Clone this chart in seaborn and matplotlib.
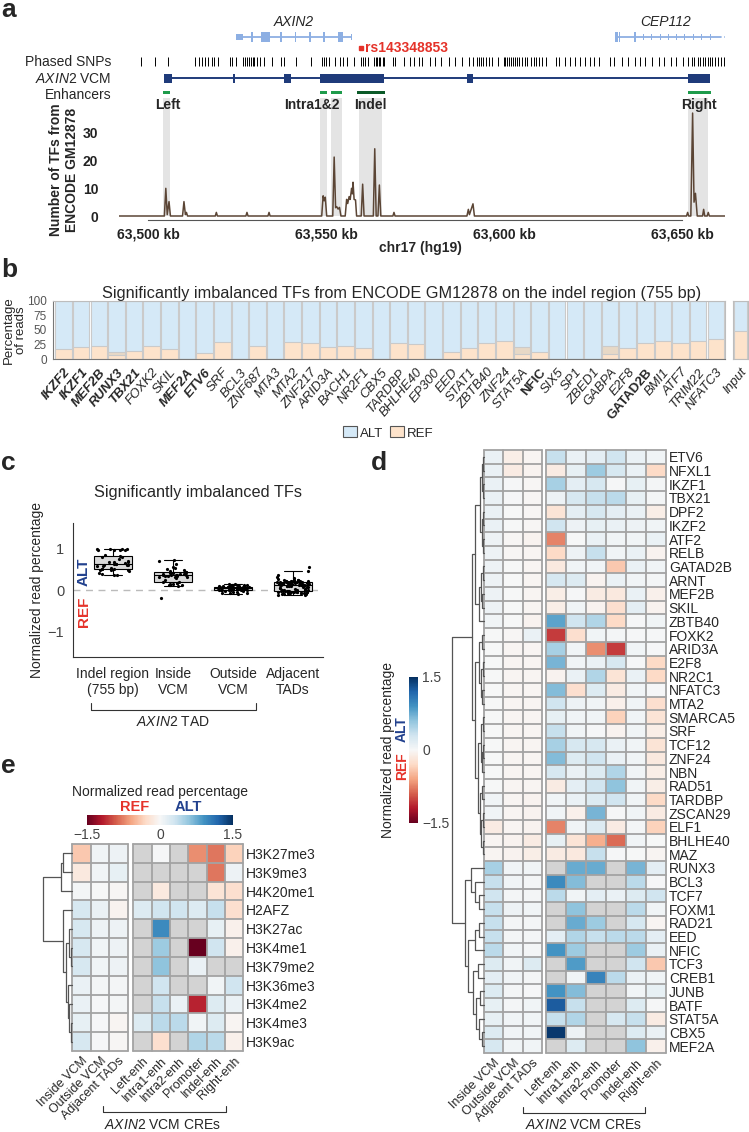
import numpy as np
import pandas as pd
import matplotlib
matplotlib.use("Agg")
import matplotlib.pyplot as plt
import seaborn as sns
from matplotlib.patches import Rectangle, Patch
from matplotlib.lines import Line2D
from matplotlib.colors import Normalize
from matplotlib.cm import ScalarMappable

sns.set_style("white")
plt.rcParams["font.family"] = ["Liberation Sans", "DejaVu Sans"]
plt.rcParams["mathtext.fontset"] = "custom"
plt.rcParams["mathtext.rm"] = "Liberation Sans"
plt.rcParams["mathtext.it"] = "Liberation Sans:italic"
plt.rcParams["mathtext.bf"] = "Liberation Sans:bold"

NA = np.nan

# ---------------- panel a data (kb, chr17 hg19) ----------------
axin2_ex_start = [63524.6, 63528.9, 63531.7, 63537.2, 63541.2, 63545.3, 63549.3, 63553.4, 63557.0]
axin2_ex_end = [63526.6, 63529.6, 63534.4, 63537.7, 63541.7, 63545.8, 63549.8, 63554.8, 63557.3]
axin2_ex_kind = ["utr", "cds", "cds", "cds", "cds", "cds", "cds", "cds", "utr"]
axin2_span = [63524.6, 63557.3]
cep112_ex_start = [63631.2, 63632.3, 63636.6, 63639.0, 63641.4, 63643.7, 63646.0, 63648.4, 63650.7, 63653.1, 63655.4, 63657.8]
cep112_ex_end = [63631.9, 63632.6, 63637.1, 63639.3, 63641.7, 63644.0, 63646.3, 63648.7, 63651.0, 63653.4, 63655.7, 63658.1]
cep112_ex_kind = ["cds", "cds", "cds", "utr", "utr", "utr", "utr", "utr", "utr", "utr", "utr", "utr"]
cep112_span = [63631.2, 63660.1, 63662.1]  # solid end, dashed end

snp_kb = [63498.0, 63502.0, 63505.7, 63513.1, 63514.2, 63515.2, 63516.1, 63516.9, 63517.9, 63518.6,
          63519.6, 63522.9, 63523.7, 63524.7, 63526.7, 63527.2, 63527.8, 63528.3, 63528.9, 63529.4,
          63529.8, 63530.6, 63531.4, 63532.7, 63534.8, 63537.3, 63538.2, 63541.6, 63545.7, 63548.9,
          63549.5, 63550.1, 63550.8, 63552.4, 63553.8, 63554.9, 63556.0, 63557.9, 63559.8, 63560.3,
          63561.0, 63561.7, 63563.4, 63564.0, 63564.4, 63564.9, 63565.3, 63565.9, 63566.4, 63568.7,
          63569.5, 63571.8, 63573.6, 63574.7, 63576.0, 63577.0, 63579.3, 63580.6, 63582.2, 63584.7,
          63586.3, 63588.1, 63590.1, 63591.2, 63592.5, 63593.1, 63593.6, 63594.2, 63595.0, 63595.8,
          63596.6, 63598.2, 63599.9, 63600.4, 63600.9, 63601.5, 63602.0, 63602.6, 63603.1, 63603.7,
          63604.2, 63605.0, 63605.8, 63606.6, 63607.5, 63608.3, 63609.1, 63609.9, 63610.7, 63611.8,
          63614.5, 63615.4, 63617.2, 63618.6, 63619.9, 63621.3, 63622.9, 63624.3, 63625.3, 63626.7,
          63629.7, 63631.0, 63633.1, 63634.8, 63636.9, 63638.2, 63639.6, 63641.6, 63643.6, 63645.0,
          63647.0, 63648.4, 63650.4, 63651.8, 63652.7, 63653.5, 63654.5, 63655.1, 63655.8, 63656.5,
          63657.2, 63657.9, 63658.5, 63659.2, 63660.2, 63661.0, 63661.9]
rs_kb = 63559.9

vcm_start = [63504.5, 63523.9, 63538.3, 63548.2, 63589.7, 63651.6]
vcm_end = [63506.8, 63524.3, 63540.1, 63566.4, 63591.3, 63658.0]
vcm_span = [63504.5, 63658.0]

enh_names = ["Left", "Intra1", "Intra2", "Indel", "Right"]
enh_start = [63504.3, 63548.2, 63551.4, 63558.7, 63651.6]
enh_end = [63506.3, 63550.3, 63554.6, 63566.5, 63658.1]
enh_label = ["Left", "Intra1&2", "Indel", "Right"]
enh_label_kb = [63505.7, 63546.1, 63562.6, 63654.7]
band_start = [63504.3, 63548.2, 63551.4, 63559.2, 63651.7]
band_end = [63506.3, 63550.3, 63554.6, 63565.7, 63657.3]

sig_kb = [63491.9, 63504.6, 63505.0, 63505.4, 63505.9, 63506.3, 63509.7, 63510.1, 63510.5, 63510.8,
          63511.1, 63518.9, 63519.2, 63519.5, 63527.5, 63527.8, 63528.1, 63533.7, 63534.0, 63534.3,
          63548.8, 63549.2, 63549.5, 63549.8, 63550.2, 63551.9, 63552.3, 63552.7, 63553.0, 63553.4,
          63553.8, 63554.2, 63555.4, 63555.8, 63556.1, 63556.5, 63556.8, 63557.2, 63557.4, 63557.6,
          63557.9, 63558.3, 63558.6, 63559.9, 63560.3, 63560.7, 63563.3, 63563.7, 63564.1, 63564.6,
          63565.0, 63565.4, 63568.8, 63569.1, 63569.4, 63589.6, 63590.0, 63590.3, 63591.3, 63591.7,
          63651.3, 63651.6, 63651.9, 63652.5, 63653.0, 63653.4, 63653.8, 63654.3, 63655.8, 63656.1,
          63656.4, 63657.1, 63657.4, 63657.7, 63662.1]
sig_val = [0, 0, 10.0, 0.5, 5.2, 0, 0, 5.2, 0.5, 1.3,
           0, 0, 1.3, 0, 0, 1.3, 0, 0, 1.3, 0,
           0, 7.3, 5.5, 6.8, 0, 0, 21.3, 3.0, 3.4, 2.5,
           3.1, 0, 0, 6.0, 4.5, 7.0, 6.0, 10.0, 8.0, 12.2,
           6.0, 5.8, 0, 0, 11.5, 0, 0, 24.3, 0, 0,
           11.2, 0, 0, 1.3, 0, 0, 2.4, 0.5, 4.4, 0,
           0, 1.3, 0, 0, 37.2, 5.0, 8.2, 0, 0, 2.4,
           0, 0, 1.3, 0, 0]

# ---------------- panel b data ----------------
b_tfs = ["IKZF2", "IKZF1", "MEF2B", "RUNX3", "TBX21", "FOXK2", "SKIL", "MEF2A", "ETV6", "SRF",
         "BCL3", "ZNF687", "MTA3", "MTA2", "ZNF217", "ARID3A", "BACH1", "NR2F1", "CBX5", "TARDBP",
         "BHLHE40", "EP300", "EED", "STAT1", "ZBTB40", "ZNF24", "STAT5A", "NFIC", "SIX5", "SP1",
         "ZBED1", "GABPA", "E2F8", "GATAD2B", "BMI1", "ATF7", "TRIM22", "NFATC3"]
b_ref = [17, 20.5, 22.7, 8, 14.8, 22.7, 18.2, 0, 10.2, 29,
         0, 22.7, 0, 29, 27.3, 20.5, 23.3, 18.8, 0, 28.4,
         25.6, 0, 12, 20, 27.3, 31.8, 9, 13, 0, 0,
         0, 8.5, 18.8, 28.4, 31.8, 27.3, 31.8, 34]
b_mixed = [0, 0, 0, 12, 0, 0, 0, 0, 0, 0,
           0, 0, 0, 0, 0, 0, 0, 0, 0, 0,
           0, 0, 0, 0, 0, 0, 20.5, 0, 0, 0,
           0, 22.7, 0, 0, 0, 0, 0, 0]
b_bold = ["IKZF2", "IKZF1", "MEF2B", "RUNX3", "TBX21", "MEF2A", "ETV6", "NFIC", "GATAD2B"]
b_upright = ["NFIC", "GATAD2B"]
input_ref = 48.3

# ---------------- panel c data ----------------
c_groups = ["Indel region\n(755 bp)", "Inside\nVCM", "Outside\nVCM", "Adjacent\nTADs"]
c_indel = [0.70, 0.63, 0.59, 0.81, 0.74, 0.60, 0.68, 0.97, 0.84, 0.47, 0.97, 0.58, 0.96, 0.46,
           0.50, 0.62, 0.57, 0.66, 0.96, 0.48, 0.53, 0.97, 0.80, 0.64, 0.49, 0.40, 0.63, 0.78,
           0.95, 0.97, 0.96, 0.59, 0.66, 0.47, 0.39, 0.50, 0.36, 0.35]
c_inside = [0.12, 0.10, 0.14, 0.16, 0.13, 0.18, 0.11, 0.15, 0.20, 0.25, 0.30, 0.33, 0.35, 0.34,
            0.36, 0.38, 0.40, 0.37, 0.32, 0.35, 0.39, 0.41, 0.44, 0.46, 0.50, 0.52, 0.48, 0.43,
            0.36, 0.31, 0.28, 0.34, 0.38, 0.42, 0.55, 0.62, 0.70, 0.72, -0.20, 0.17]
c_outside = [0.00, 0.02, 0.05, 0.08, 0.10, 0.12, 0.15, 0.13, 0.03, -0.02, -0.05, -0.08, -0.10,
             0.01, 0.04, 0.06, 0.07, 0.09, 0.11, 0.14, 0.02, 0.00, -0.03, -0.06, 0.03, 0.05,
             0.08, 0.12, 0.01, -0.01, 0.04, 0.02, 0.06, 0.10, -0.04, 0.00, 0.03, 0.07, 0.09,
             0.13, -0.07, 0.01, 0.05, 0.02, 0.04]
c_adjacent = [0.55, 0.45, 0.35, 0.30, 0.28, 0.26, 0.25, 0.24, 0.23, 0.22, 0.22, 0.21, 0.21, 0.20,
              0.20, 0.19, 0.19, 0.18, 0.18, 0.17, 0.17, 0.16, 0.16, 0.15, 0.15, 0.15, 0.14, 0.14,
              0.13, 0.13, 0.13, 0.12, 0.12, 0.12, 0.11, 0.11, 0.10, 0.10, 0.10, 0.09, 0.09, 0.08,
              0.08, 0.07, 0.06, 0.05, 0.04, 0.03, 0.02, 0.01, 0.00, 0.00, -0.01, -0.01, -0.02,
              -0.02, -0.03, -0.03, -0.03, -0.04, -0.04, -0.04, -0.05, -0.05, -0.05, -0.05, -0.06,
              -0.06, -0.06, -0.07, -0.07, -0.07, -0.08, -0.08, -0.09, -0.09, -0.10, -0.10, -0.11,
              -0.12, 0.18, 0.20, 0.22, 0.16, 0.14, 0.24, 0.19, 0.17, 0.21, 0.15]

# ---------------- heatmap data ----------------
region_cols = ["Inside VCM", "Outside VCM", "Adjacent TADs"]
cre_cols = ["Left-enh", "Intra1-enh", "Intra2-enh", "Promoter", "Indel-enh", "Right-enh"]

d_rows = ["ETV6", "NFXL1", "IKZF1", "TBX21", "DPF2", "IKZF2", "ATF2", "RELB", "GATAD2B", "ARNT",
          "MEF2B", "SKIL", "ZBTB40", "FOXK2", "ARID3A", "E2F8", "NR2C1", "NFATC3", "MTA2", "SMARCA5",
          "SRF", "TCF12", "ZNF24", "NBN", "RAD51", "TARDBP", "ZSCAN29", "ELF1", "BHLHE40", "MAZ",
          "RUNX3", "BCL3", "TCF7", "FOXM1", "RAD21", "EED", "NFIC", "TCF3", "CREB1", "JUNB",
          "BATF", "STAT5A", "CBX5", "MEF2A"]
d_region = [[0.10, -0.10, -0.03], [0.10, -0.12, -0.05], [0.10, 0.02, -0.02], [0.10, 0.02, -0.02],
            [0.10, 0.00, -0.02], [0.10, 0.00, -0.02], [0.08, -0.02, -0.05], [0.08, -0.02, -0.03],
            [0.08, 0.00, -0.03], [0.08, 0.00, -0.03], [0.08, 0.00, -0.03], [0.08, 0.00, -0.03],
            [0.05, 0.00, -0.05], [0.00, -0.02, 0.10], [0.00, -0.03, -0.03], [0.00, -0.03, -0.03],
            [0.00, -0.03, -0.03], [0.00, -0.03, -0.03], [0.00, -0.03, -0.03], [0.00, -0.03, -0.03],
            [0.00, -0.03, -0.03], [0.00, -0.03, -0.03], [0.00, -0.03, -0.03], [0.00, -0.03, -0.03],
            [0.00, -0.03, -0.03], [0.05, -0.03, -0.05], [0.05, -0.03, -0.05], [-0.12, -0.03, -0.05],
            [-0.03, -0.05, -0.12], [-0.03, -0.05, -0.10], [0.50, 0.05, 0.05], [0.35, 0.05, 0.03],
            [0.30, 0.03, 0.03], [0.35, 0.08, 0.05], [0.35, 0.03, 0.03], [0.35, 0.03, 0.03],
            [0.40, 0.05, 0.03], [0.20, 0.05, 0.20], [0.15, 0.05, 0.03], [0.20, 0.03, 0.02],
            [0.12, 0.03, 0.05], [0.12, 0.05, 0.05], [0.20, 0.05, 0.05], [0.25, 0.05, 0.05]]
d_cre = [[0.35, 0.10, 0.15, 0.30, 0.10, 0.05], [-0.12, 0.12, 0.55, 0.25, 0.10, -0.30],
         [0.50, 0.15, 0.25, 0.02, 0.12, 0.03], [0.08, 0.25, 0.35, 0.40, 0.12, 0.03],
         [-0.20, 0.15, 0.25, 0.15, 0.10, -0.10], [0.30, 0.08, 0.12, 0.10, 0.08, 0.05],
         [-0.75, 0.00, 0.10, 0.05, 0.05, 0.10], [-0.30, 0.08, 0.35, 0.05, 0.10, -0.05],
         [-0.15, 0.05, 0.05, -0.40, 0.10, 0.05], [0.25, 0.20, -0.05, 0.10, 0.05, 0.03],
         [-0.10, 0.02, -0.12, -0.15, 0.10, -0.08], [-0.10, 0.05, -0.05, -0.25, 0.15, -0.05],
         [0.80, 0.30, 0.45, -0.30, 0.02, 0.05], [-1.05, -0.25, 0.05, 0.03, 0.02, 0.02],
         [0.50, 0.05, -0.70, -1.05, 0.05, 0.02], [0.70, 0.05, 0.10, 0.25, 0.02, -0.30],
         [-0.05, 0.10, 0.45, -0.20, 0.10, -0.30], [0.65, -0.25, 0.20, -0.12, 0.05, 0.02],
         [0.30, 0.08, 0.05, -0.08, 0.05, -0.25], [0.12, 0.05, 0.05, -0.35, 0.05, -0.20],
         [0.35, 0.05, 0.02, -0.05, 0.05, -0.10], [0.50, 0.25, 0.25, 0.10, 0.05, -0.20],
         [0.65, 0.20, 0.30, 0.10, 0.05, -0.15], [0.25, 0.10, 0.20, 0.45, 0.05, -0.10],
         [-0.12, 0.15, 0.30, 0.60, 0.05, -0.10], [0.05, 0.10, 0.20, 0.30, 0.05, -0.30],
         [0.05, -0.08, 0.70, 0.02, 0.05, -0.12], [-0.75, 0.05, 0.20, -0.12, 0.03, -0.35],
         [0.12, -0.20, -0.55, -0.85, 0.05, 0.00], [-0.12, -0.15, 0.35, 0.02, 0.00, -0.03],
         [NA, 0.75, 0.75, NA, 0.70, 0.15], [0.95, 0.65, NA, NA, 0.40, 0.02],
         [0.40, 0.05, 0.15, 0.10, 0.20, 0.30], [NA, 0.60, NA, NA, 0.40, 0.05],
         [NA, 0.75, 0.55, NA, 0.25, -0.03], [0.15, 0.45, 0.35, 0.40, 0.40, 0.15],
         [0.90, 0.55, NA, NA, 0.55, 0.10], [NA, 0.85, NA, NA, 0.30, -0.40],
         [NA, 0.05, 1.00, 0.40, 0.10, 0.05], [0.90, 0.65, NA, NA, 0.05, 0.12],
         [1.25, 0.35, NA, NA, 0.20, 0.02], [0.35, 0.45, NA, 0.25, 0.35, -0.12],
         [1.45, 0.08, NA, NA, 0.20, 0.10], [NA, 0.20, NA, NA, 0.60, -0.08]]
d_tree = [1.0,
          [0.38,
           [0.30, [0.12, [0.08, [0.05, 0, 1], [0.04, 2, 3]], [0.07, [0.04, 4, 5], [0.05, 6, 7]]],
            [0.15, [0.10, [0.05, 8, 9], [0.06, 10, 11]], 12]],
           [0.28, [0.15, [0.08, 13, 14], [0.10, [0.05, 15, 16], [0.06, 17, 18]]],
            [0.20, [0.10, [0.05, 19, 20], [0.06, [0.03, 21, 22], 23]],
             [0.12, [0.07, 24, 25], [0.09, [0.05, 26, 27], [0.04, 28, 29]]]]]],
          [0.60, [0.42, 30, [0.30, 31, [0.15, 32, 33]]],
           [0.50, [0.30, [0.15, 34, 35], 36],
            [0.35, [0.20, 37, 38], [0.25, [0.12, 39, 40], [0.15, 41, [0.08, 42, 43]]]]]]]

e_rows = ["H3K27me3", "H3K9me3", "H4K20me1", "H2AFZ", "H3K27ac", "H3K4me1", "H3K79me2",
          "H3K36me3", "H3K4me2", "H3K4me3", "H3K9ac"]
e_region = [[-0.40, 0.05, 0.08], [-0.15, 0.05, 0.12], [0.03, 0.00, -0.02], [0.25, 0.10, -0.05],
            [0.25, 0.08, 0.08], [0.25, 0.05, 0.08], [0.25, 0.05, 0.08], [0.10, 0.03, 0.03],
            [0.10, 0.02, 0.03], [0.12, 0.02, -0.03], [0.25, 0.02, -0.02]]
e_cre = [[NA, 0.02, NA, -0.70, -0.80, -0.35], [NA, NA, NA, NA, -0.80, 0.08],
         [NA, -0.15, NA, NA, -0.20, -0.25], [0.20, 0.30, 0.30, 0.20, 0.35, -0.25],
         [NA, 0.95, NA, NA, 0.12, -0.08], [NA, 0.55, NA, -1.50, 0.30, -0.08],
         [NA, 0.60, NA, 0.10, NA, NA], [NA, 0.30, NA, NA, 0.05, 0.30],
         [NA, 0.35, 0.10, -1.15, 0.20, 0.10], [0.20, 0.40, 0.40, 0.05, 0.20, -0.03],
         [NA, -0.25, NA, 0.45, 0.40, -0.08]]
e_tree = [1.0, [0.38, [0.30, 0, 1], 2],
          [0.30, 3, [0.20, [0.12, 4, [0.06, 5, 6]], [0.15, 7, [0.10, 8, [0.05, 9, 10]]]]]]

# ---------------- layout helpers (pixel coords) ----------------
W, H = 749, 1132
fig = plt.figure(figsize=(W / 100, H / 100), dpi=100)

RED = "#E5332A"
BLUE = "#22418E"
NAVY = "#1F3B7A"
GENE = "#8DAFE3"


def box(x0, y0, x1, y1):
    return fig.add_axes([x0 / W, 1 - y1 / H, (x1 - x0) / W, (y1 - y0) / H])


def ftext(x, y, s, **kw):
    kw.setdefault("ha", "center")
    kw.setdefault("va", "center")
    return fig.text(x / W, 1 - y / H, s, **kw)


def fline(xs, ys, **kw):
    fig.add_artist(Line2D([x / W for x in xs], [1 - y / H for y in ys], **kw))


for lab, x, y in [("a", 1, 10), ("b", 1, 270), ("c", 1, 463), ("d", 371, 463), ("e", 1, 766)]:
    ftext(x, y, lab, ha="left", fontsize=19, fontweight="bold")

# ---------------- panel a ----------------
XMIN, XMAX = 63491.85, 63662.1
ta = box(119, 0, 725, 98)
ta.set_xlim(XMIN, XMAX)
ta.set_ylim(98, 0)
ta.axis("off")


def draw_gene(ax, span, starts, ends, kinds, y):
    ax.plot(span[:2], [y, y], color=GENE, lw=1.3, solid_capstyle="butt")
    for s, e, k in zip(starts, ends, kinds):
        hh = 5 if k == "cds" else 3
        ax.add_patch(Rectangle((s, y - hh), e - s, 2 * hh, color=GENE, lw=0))


draw_gene(ta, axin2_span, axin2_ex_start, axin2_ex_end, axin2_ex_kind, 37)
draw_gene(ta, cep112_span, cep112_ex_start, cep112_ex_end, cep112_ex_kind, 37)
ta.plot(cep112_span[1:], [37, 37], color=GENE, lw=1.3, ls=(0, (2, 1.5)))
ta.text(np.mean(axin2_span), 22, "AXIN2", style="italic", fontsize=10, ha="center", va="center")
ta.text(63645.5, 22, "CEP112", style="italic", fontsize=10, ha="center", va="center")

ta.plot(rs_kb, 48, marker="s", ms=3.2, color=RED)
ta.text(rs_kb + 1.2, 48, "rs143348853", color=RED, fontweight="bold", fontsize=10, va="center")

ta.vlines(snp_kb, 57.5, 66.5, color="black", lw=0.7)

ta.plot(vcm_span, [78, 78], color=NAVY, lw=1.4, solid_capstyle="butt")
for s, e in zip(vcm_start, vcm_end):
    ta.add_patch(Rectangle((s, 73.5), e - s, 9, color=NAVY, lw=0))

for n, s, e in zip(enh_names, enh_start, enh_end):
    ta.add_patch(Rectangle((s, 91), e - s, 3, color="#0B5A28" if n == "Indel" else "#1E9B4B", lw=0))

ftext(111, 62, "Phased SNPs", ha="right", fontsize=10)
ftext(111, 79, r"$\it{AXIN2}$ VCM", ha="right", fontsize=10)
ftext(111, 95, "Enhancers", ha="right", fontsize=10)

sa = box(119, 98, 725, 220)
sa.set_xlim(XMIN, XMAX)
ylo, yhi = -4 / 2.767, 118 / 2.767
sa.set_ylim(ylo, yhi)
for s, e in zip(band_start, band_end):
    sa.axvspan(s, e, ymin=(0 - ylo) / (yhi - ylo), color="#E4E4E4", lw=0, zorder=0)
sns.lineplot(x=sig_kb, y=sig_val, ax=sa, color="#5B4535", lw=1.1, zorder=3, sort=False)
for lab, k in zip(enh_label, enh_label_kb):
    sa.text(k, (216 - 105) / 2.767, lab, ha="center", va="center", fontsize=10,
            fontweight="bold", zorder=5)
for sp in ["top", "right", "left"]:
    sa.spines[sp].set_visible(False)
sa.spines["left"].set_position(("outward", 5))
sa.spines["bottom"].set_bounds(63500, 63650)
sa.spines["bottom"].set_color("#555")
sa.spines["bottom"].set_linewidth(0.8)
sa.set_yticks([0, 10, 20, 30])
sa.set_xticks([63500, 63550, 63600, 63650])
sa.set_xticklabels(["63,500 kb", "63,550 kb", "63,600 kb", "63,650 kb"])
sa.tick_params(axis="both", length=3, width=0.8, color="#555", labelsize=10, pad=2.5)
sa.tick_params(axis="y", pad=7)
for t in sa.get_xticklabels() + sa.get_yticklabels():
    t.set_fontweight("bold")
    t.set_color("#222")
ftext(64, 170, "Number of TFs from\nENCODE GM12878", rotation=90, fontsize=10,
      fontweight="bold", linespacing=1.15)
ftext(420, 248, "chr17 (hg19)", fontsize=10, fontweight="bold")

# ---------------- panel b ----------------
C_ALT, C_REF, C_MIX, C_EDGE = "#D5E9F7", "#FDE3CB", "#E7D8C6", "#CACACA"
ba = box(53, 300.7, 725, 359.3)
sns.barplot(x=b_tfs, y=[100] * len(b_tfs), color=C_ALT, saturation=1, width=0.94,
            edgecolor=C_EDGE, linewidth=0.8, errorbar=None, ax=ba)
sns.barplot(x=b_tfs, y=b_mixed, color=C_MIX, saturation=1, width=0.94,
            edgecolor=C_EDGE, linewidth=0.8, errorbar=None, ax=ba)
sns.barplot(x=b_tfs, y=b_ref, color=C_REF, saturation=1, width=0.94,
            edgecolor=C_EDGE, linewidth=0.8, errorbar=None, ax=ba)
ba.set_xlim(-0.6, len(b_tfs) - 0.48)
ba.set_ylim(0, 100)
ba.set_yticks([0, 25, 50, 75, 100])
ba.set_xticks(range(len(b_tfs)))
ba.set_xticklabels(b_tfs, rotation=50, ha="right", rotation_mode="anchor")
ba.tick_params(axis="y", length=3, width=0.8, color="#666", labelsize=8.5, labelcolor="#555", pad=1.5)
ba.tick_params(axis="x", length=3, width=0.8, color="#666", labelsize=9.5, pad=2)
for t, name in zip(ba.get_xticklabels(), b_tfs):
    if name in b_bold:
        t.set_fontweight("bold")
    if name not in b_upright:
        t.set_fontstyle("italic")
for sp in ["top", "right"]:
    ba.spines[sp].set_color("#BDBDBD")
for sp in ["left", "bottom"]:
    ba.spines[sp].set_color("#777")
    ba.spines[sp].set_linewidth(0.8)
ftext(15, 330, "Percentage\nof reads", rotation=90, fontsize=9.5, linespacing=1.05)
ftext(402, 293, "Significantly imbalanced TFs from ENCODE GM12878 on the indel region (755 bp)",
      fontsize=11.7)

ia = box(733, 300.7, 748, 359.3)
sns.barplot(x=["Input"], y=[100], color=C_ALT, saturation=1, width=0.94, edgecolor=C_EDGE,
            linewidth=0.8, errorbar=None, ax=ia)
sns.barplot(x=["Input"], y=[input_ref], color=C_REF, saturation=1, width=0.94,
            edgecolor=C_EDGE, linewidth=0.8, errorbar=None, ax=ia)
ia.set_xlim(-0.55, 0.55)
ia.set_ylim(0, 100)
ia.set_yticks([])
ia.set_xticks([0])
ia.set_xticklabels(["Input"], rotation=50, ha="right", rotation_mode="anchor", style="italic")
ia.tick_params(axis="x", length=3, width=0.8, color="#666", labelsize=9.5, pad=2)
for sp in ia.spines.values():
    sp.set_color("#BDBDBD")

fig.legend(handles=[Patch(facecolor=C_ALT, edgecolor="#555", lw=0.8),
                    Patch(facecolor=C_REF, edgecolor="#555", lw=0.8)],
           labels=["ALT", "REF"], loc="center", bbox_to_anchor=(388 / W, 1 - 433 / H), ncol=2,
           frameon=False, fontsize=9.5, handlelength=1.1, handleheight=0.9,
           handletextpad=0.2, columnspacing=0.5)

# ---------------- panel c ----------------
dfc = pd.DataFrame({
    "group": [c_groups[0]] * len(c_indel) + [c_groups[1]] * len(c_inside)
    + [c_groups[2]] * len(c_outside) + [c_groups[3]] * len(c_adjacent),
    "value": c_indel + c_inside + c_outside + c_adjacent,
})
ca = box(72.7, 523, 323, 657)
ca.axhline(0, color="#BBBBBB", ls=(0, (5, 4)), lw=1, zorder=0)
sns.boxplot(data=dfc, x="group", y="value", order=c_groups, color="#D9D9D9", saturation=1,
            width=0.62, showfliers=False, linewidth=0.8, linecolor="black", ax=ca)
np.random.seed(4)
sns.stripplot(data=dfc, x="group", y="value", order=c_groups, color="black", size=2.3,
              jitter=0.27, ax=ca)
ca.set_ylim(-1.6, 1.6)
ca.set_xlim(-0.67, 3.5)
ca.set_yticks([-1, 0, 1])
ca.set_yticklabels(["\u22121", "0", "1"])
ca.set_xlabel("")
ca.set_ylabel("")
ca.tick_params(axis="y", length=0, labelsize=10.5, labelcolor="#444", pad=6)
ca.tick_params(axis="x", length=3, width=0.8, labelsize=10, pad=4)
sns.despine(ax=ca)
for sp in ["left", "bottom"]:
    ca.spines[sp].set_color("#333")
    ca.spines[sp].set_linewidth(0.8)
ftext(198, 492, "Significantly imbalanced TFs", fontsize=11.7)
ftext(37, 590, "Normalized read percentage", rotation=90, fontsize=10)
ftext(84, 572, "ALT", rotation=90, fontsize=11, fontweight="bold", color=BLUE)
ftext(84, 612, "REF", rotation=90, fontsize=11, fontweight="bold", color=RED)
fline([91, 91, 256, 256], [703, 710, 710, 703], color="#333", lw=0.8)
ftext(173, 722, r"$\it{AXIN2}$ TAD", fontsize=10)

# ---------------- heatmaps ----------------
GRID = "#A3A3A3"
NANC = "#D3D3D3"


def draw_heat(ax, vals, rows, cols, show_rows, fs_rows):
    df = pd.DataFrame(vals, index=rows, columns=cols)
    sns.heatmap(df, ax=ax, cmap="RdBu", vmin=-1.5, vmax=1.5, cbar=False, linewidths=0,
                xticklabels=cols, yticklabels=rows if show_rows else False)
    ax.set_facecolor(NANC)
    for i in range(len(rows) + 1):
        ax.axhline(i, color=GRID, lw=1.3, clip_on=False)
    for j in range(len(cols) + 1):
        ax.axvline(j, color=GRID, lw=1.3, clip_on=False)
    ax.set_xticklabels(cols, rotation=45, ha="right", rotation_mode="anchor", fontsize=9)
    ax.tick_params(length=0, pad=3)
    if show_rows:
        ax.yaxis.tick_right()
        ax.set_yticklabels(rows, rotation=0, fontsize=fs_rows)
        ax.tick_params(axis="y", pad=2)
    ax.set_xlabel("")
    ax.set_ylabel("")


def draw_tree(ax, node):
    if isinstance(node, int):
        return node + 0.5, 0.0
    h, left, right = node
    y1, h1 = draw_tree(ax, left)
    y2, h2 = draw_tree(ax, right)
    ax.plot([h1, h, h, h2], [y1, y1, y2, y2], color="#555", lw=0.9, clip_on=False)
    return (y1 + y2) / 2, h


# panel d
dl = box(484.3, 450, 541.7, 1053)
dr = box(546, 450, 666, 1053)
draw_heat(dl, d_region, d_rows, region_cols, False, 10)
draw_heat(dr, d_cre, d_rows, cre_cols, True, 10)
dd = box(452, 450, 484.3, 1053)
draw_tree(dd, d_tree)
dd.set_xlim(1.0, 0)
dd.set_ylim(len(d_rows), 0)
dd.axis("off")

sm = ScalarMappable(norm=Normalize(-1.5, 1.5), cmap="RdBu")
cbd = fig.colorbar(sm, cax=box(409, 677, 418, 823), orientation="vertical", ticks=[-1.5, 0, 1.5])
cbd.outline.set_visible(False)
cbd.ax.set_yticklabels(["\u22121.5", "0", "1.5"])
cbd.ax.tick_params(length=0, labelsize=10, labelcolor="#444", pad=3)
ftext(388, 750, "Normalized read percentage", rotation=90, fontsize=10)
ftext(402, 729, "ALT", rotation=90, fontsize=10, fontweight="bold", color=BLUE)
ftext(402, 766, "REF", rotation=90, fontsize=10, fontweight="bold", color=RED)
fline([523, 523, 645, 645], [1107, 1113, 1113, 1107], color="#333", lw=0.8)
ftext(584, 1125, r"$\it{AXIN2}$ VCM CREs", fontsize=10)

# panel e
el = box(72.3, 844, 127.7, 1051)
er = box(133.3, 844, 243.3, 1051)
draw_heat(el, e_region, e_rows, region_cols, False, 10)
draw_heat(er, e_cre, e_rows, cre_cols, True, 10)
ed = box(42.7, 844, 72.3, 1051)
draw_tree(ed, e_tree)
ed.set_xlim(1.0, 0)
ed.set_ylim(len(e_rows), 0)
ed.axis("off")

cbe = fig.colorbar(sm, cax=box(87, 815, 233, 825), orientation="horizontal", ticks=[-1.5, 0, 1.5])
cbe.outline.set_visible(False)
cbe.ax.set_xticklabels(["\u22121.5", "0", "1.5"])
cbe.ax.tick_params(length=0, labelsize=10, labelcolor="#444", pad=2)
ftext(160, 792, "Normalized read percentage", fontsize=10)
ftext(135, 807, "REF", fontsize=10.5, fontweight="bold", color=RED)
ftext(188, 807, "ALT", fontsize=10.5, fontweight="bold", color=BLUE)
fline([103, 103, 226, 226], [1106, 1112, 1112, 1106], color="#333", lw=0.8)
ftext(163, 1125, r"$\it{AXIN2}$ VCM CREs", fontsize=10)

fig.savefig("out.png", dpi=100)
